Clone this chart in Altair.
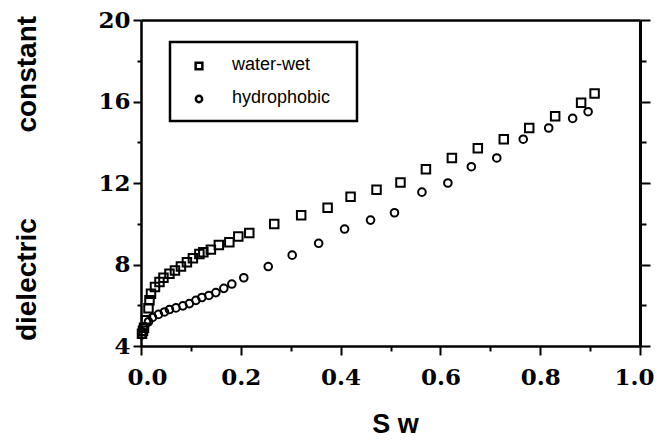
import altair as alt
import pandas as pd

SERIES = ["water-wet", "hydrophobic"]

WW_SW = [0.002, 0.004, 0.006, 0.010, 0.015, 0.017, 0.020, 0.028, 0.037, 0.045, 0.057, 0.068,
         0.080, 0.092, 0.104, 0.117, 0.125, 0.140, 0.156, 0.177, 0.195, 0.217, 0.267, 0.321,
         0.374, 0.420, 0.472, 0.520, 0.571, 0.623, 0.675, 0.727, 0.778, 0.830, 0.882, 0.909]
WW_EPS = [4.60, 4.75, 4.90, 5.27, 5.85, 6.24, 6.57, 6.89, 7.14, 7.35, 7.55, 7.71,
          7.90, 8.11, 8.31, 8.52, 8.60, 8.73, 8.96, 9.09, 9.37, 9.55, 9.99, 10.42,
          10.78, 11.33, 11.67, 12.03, 12.67, 13.23, 13.71, 14.15, 14.70, 15.28, 15.94, 16.39]

HP_SW = [0.002, 0.003, 0.007, 0.015, 0.023, 0.035, 0.047, 0.057, 0.070, 0.084, 0.097, 0.110,
         0.122, 0.136, 0.150, 0.166, 0.182, 0.206, 0.255, 0.303, 0.356, 0.408, 0.460, 0.508,
         0.563, 0.615, 0.662, 0.713, 0.766, 0.817, 0.865, 0.896]
HP_EPS = [4.55, 4.70, 4.94, 5.19, 5.40, 5.55, 5.67, 5.79, 5.87, 5.97, 6.08, 6.24,
          6.38, 6.48, 6.62, 6.83, 7.04, 7.35, 7.90, 8.46, 9.04, 9.74, 10.18, 10.54,
          11.55, 12.00, 12.80, 13.23, 14.15, 14.70, 15.17, 15.50]

X_MAJOR = [0.0, 0.2, 0.4, 0.6, 0.8, 1.0]
X_MINOR = [0.1, 0.3, 0.5, 0.7, 0.9]
Y_MAJOR = [4, 8, 12, 16, 20]
Y_MINOR = [6, 10, 14, 18]

NB = "\u00a0"
Y_TITLE = "dielectric" + NB * 11 + "constant"
X_TITLE = "S" + NB + "w"

ww = pd.DataFrame({"Sw": WW_SW, "eps": WW_EPS, "series": SERIES[0]})
hp = pd.DataFrame({"Sw": HP_SW, "eps": HP_EPS, "series": SERIES[1]})

XS = alt.Scale(domain=[0, 1], nice=False, zero=False)
YS = alt.Scale(domain=[4, 20], nice=False, zero=False)

TICKFONT = "DejaVu Serif"
TITLEFONT = "Liberation Sans"

common_axis = dict(grid=False, domainColor="black", tickColor="black", labelColor="black")

x_main = alt.X("Sw:Q", scale=XS, axis=alt.Axis(
    orient="bottom", values=X_MAJOR, format=".1f", tickSize=9, tickWidth=2, domainWidth=2.5,
    labelFont=TICKFONT, labelFontWeight="bold", labelFontSize=23, labelPadding=11,
    labelOverlap=False, labelBound=False, labelFlush=True, labelFlushOffset=14,
    title=X_TITLE, titleFont=TITLEFONT, titleFontWeight="bold", titleFontSize=27,
    titleX=254, titleY=86, titleBaseline="alphabetic", titleAlign="center", **common_axis))
y_main = alt.Y("eps:Q", scale=YS, axis=alt.Axis(
    orient="left", values=Y_MAJOR, format="d", tickSize=8, tickWidth=2, domainWidth=2.5,
    labelFont=TICKFONT, labelFontWeight="bold", labelFontSize=23, labelPadding=3,
    title=Y_TITLE, titleFont=TITLEFONT, titleFontWeight="bold", titleLimit=1000,
    titleFontSize=28, titleAngle=270, titleX=-106, titleY=158, titleBaseline="alphabetic",
    titleAlign="center", **common_axis))

squares = alt.Chart(ww).mark_point(shape="square", filled=False, stroke="black",
                                   strokeWidth=2, size=72, opacity=1).encode(x=x_main, y=y_main)

x_minor = alt.X("Sw:Q", scale=XS, axis=alt.Axis(
    orient="bottom", values=X_MINOR, tickSize=5, tickWidth=2, domain=False, labels=False,
    title="", **common_axis))
y_minor = alt.Y("eps:Q", scale=YS, axis=alt.Axis(
    orient="left", values=Y_MINOR, tickSize=4, tickWidth=2, domain=False, labels=False,
    title="", **common_axis))

circles = alt.Chart(hp).mark_point(shape="circle", filled=False, stroke="black",
                                   strokeWidth=2, size=58, opacity=1).encode(x=x_minor, y=y_minor)

x_top = alt.X("Sw:Q", scale=XS, axis=alt.Axis(
    orient="top", ticks=False, labels=False, domainWidth=2.5, title="", **common_axis))
y_right = alt.Y("eps:Q", scale=YS, axis=alt.Axis(
    orient="right", values=Y_MAJOR, tickSize=10, tickWidth=2, domainWidth=3, labels=False,
    title="", **common_axis))
frame1 = alt.Chart(hp).mark_point(opacity=0).encode(x=x_top, y=y_right)

y_right_minor = alt.Y("eps:Q", scale=YS, axis=alt.Axis(
    orient="right", values=Y_MINOR, tickSize=6, tickWidth=2, domain=False, labels=False,
    title="", **common_axis))
x_none = alt.X("Sw:Q", scale=XS, axis=None)
frame2 = alt.Chart(hp).mark_point(opacity=0).encode(x=x_none, y=y_right_minor)

box = alt.Chart(pd.DataFrame({"a": [0]})).mark_rect(
    fillOpacity=0, stroke="black", strokeWidth=2.5).encode(
    x=alt.value(29), x2=alt.value(216), y=alt.value(22), y2=alt.value(101))

leg1 = pd.DataFrame({"label": [SERIES[0]]})
leg2 = pd.DataFrame({"label": [SERIES[1]]})
sym1 = alt.Chart(leg1).mark_point(shape="square", filled=False, stroke="black",
                                  strokeWidth=2.5, size=45, opacity=1).encode(
    x=alt.value(58), y=alt.value(46))
sym2 = alt.Chart(leg2).mark_point(shape="circle", filled=False, stroke="black",
                                  strokeWidth=2.5, size=40, opacity=1).encode(
    x=alt.value(58), y=alt.value(79))
txt1 = alt.Chart(leg1).mark_text(align="left", baseline="middle", font=TITLEFONT,
                                 fontSize=18, color="black").encode(
    text="label:N", x=alt.value(91), y=alt.value(45))
txt2 = alt.Chart(leg2).mark_text(align="left", baseline="middle", font=TITLEFONT,
                                 fontSize=18, color="black").encode(
    text="label:N", x=alt.value(91), y=alt.value(78))

chart = alt.layer(squares, circles, frame1, frame2, box, sym1, sym2, txt1, txt2).resolve_axis(
    x="independent", y="independent"
).properties(
    width=499, height=326,
    autosize=alt.AutoSizeParams(type="none"),
    padding={"left": 133, "top": 12, "right": 14, "bottom": 95},
).configure_view(stroke=None)

chart.save("out.html", embed_options={"renderer": "svg", "actions": False})
